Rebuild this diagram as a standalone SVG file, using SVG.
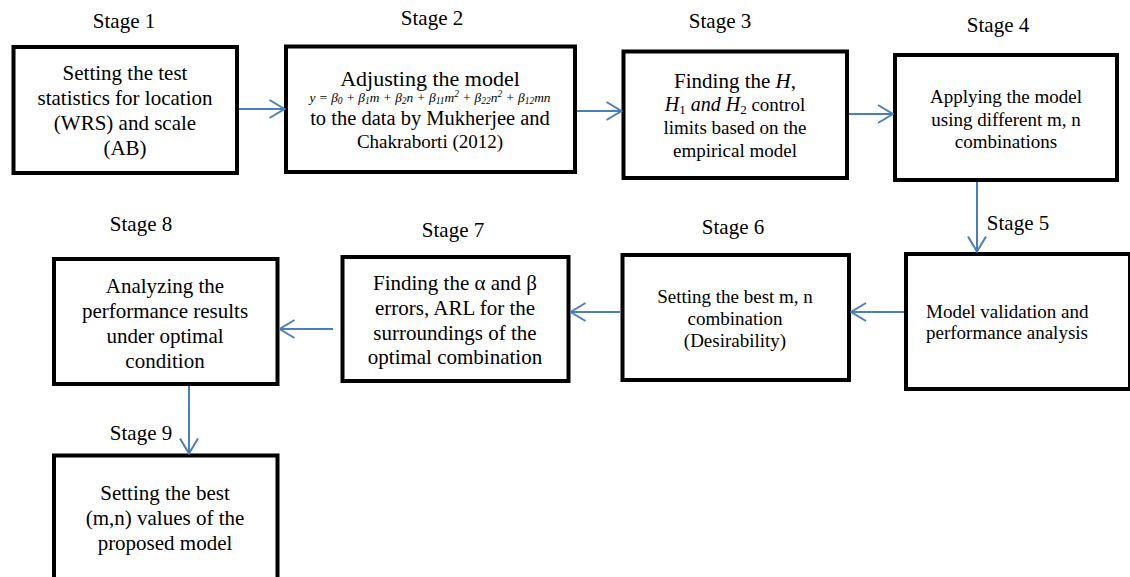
<svg xmlns="http://www.w3.org/2000/svg" width="1130" height="577" viewBox="0 0 1130 577">
<defs>
<style>
.box{fill:#fff;stroke:#000;stroke-width:4}
.t{font-family:'Liberation Serif','Times New Roman',serif;font-size:21px;fill:#000;text-anchor:middle}
.s{font-size:19px}
.b{font-size:22px}
.c{font-size:20.5px}
.f{font-size:13.4px;font-style:italic}
.sub{font-size:9.5px}
.l{text-anchor:start}
.m{font-style:italic}
.con{stroke:#4A7EBB;stroke-width:2;fill:none;marker-end:url(#ah)}
</style>
<marker id="ah" markerUnits="userSpaceOnUse" viewBox="0 0 17 20" refX="16" refY="10" markerWidth="17" markerHeight="20" orient="auto">
<path d="M1,1 L16,10 L1,19" fill="none" stroke="#4A7EBB" stroke-width="2"/>
</marker>
</defs>
<rect width="1130" height="577" fill="#fff"/>

<g id="labels">
<text class="t" x="124" y="28">Stage 1</text>
<text class="t" x="432" y="25">Stage 2</text>
<text class="t" x="720" y="28">Stage 3</text>
<text class="t" x="998" y="32">Stage 4</text>
<text class="t" x="1018" y="230">Stage 5</text>
<text class="t" x="733" y="234">Stage 6</text>
<text class="t" x="453" y="237">Stage 7</text>
<text class="t" x="141" y="231">Stage 8</text>
<text class="t" x="141" y="440">Stage 9</text>
</g>

<g id="stage1">
<rect class="box" x="13.5" y="47" width="223.5" height="126"/>
<text class="t" x="125" y="80">Setting the test</text>
<text class="t" x="125" y="105">statistics for location</text>
<text class="t" x="125" y="130">(WRS) and scale</text>
<text class="t" x="125" y="155">(AB)</text>
</g>

<g id="stage2">
<rect class="box" x="286" y="46.5" width="289" height="125.5"/>
<text class="t b" x="430" y="86">Adjusting the model</text>
<text class="t f" x="430" y="102">y = β<tspan class="sub" dy="2">0</tspan><tspan dy="-2"> + β</tspan><tspan class="sub" dy="2">1</tspan><tspan dy="-2">m + β</tspan><tspan class="sub" dy="2">2</tspan><tspan dy="-2">n + β</tspan><tspan class="sub" dy="2">11</tspan><tspan dy="-2">m</tspan><tspan class="sub" dy="-5">2</tspan><tspan dy="5"> + β</tspan><tspan class="sub" dy="2">22</tspan><tspan dy="-2">n</tspan><tspan class="sub" dy="-5">2</tspan><tspan dy="5"> + β</tspan><tspan class="sub" dy="2">12</tspan><tspan dy="-2">mn</tspan></text>
<text class="t c" x="430" y="125">to the data by Mukherjee and</text>
<text class="t s" x="430" y="148">Chakraborti (2012)</text>
</g>

<g id="stage3">
<rect class="box" x="623.5" y="51.5" width="223.5" height="126.5"/>
<text class="t" x="735" y="88">Finding the <tspan class="m">H</tspan>,</text>
<text class="t s" x="735" y="111"><tspan class="m" style="font-size:20px">H</tspan><tspan style="font-size:13px" dy="3">1</tspan><tspan class="m" style="font-size:20px" dy="-3"> and H</tspan><tspan style="font-size:13px" dy="3">2</tspan><tspan dy="-3"> control</tspan></text>
<text class="t s" x="735" y="134">limits based on the</text>
<text class="t s" x="735" y="157">empirical model</text>
</g>

<g id="stage4">
<rect class="box" x="895" y="55" width="222" height="125"/>
<text class="t s" x="1006" y="103">Applying the model</text>
<text class="t s" x="1006" y="126">using different m, n</text>
<text class="t s" x="1006" y="148">combinations</text>
</g>

<g id="stage5">
<rect class="box" x="906" y="254" width="224" height="135"/>
<text class="t s l" x="926" y="318">Model validation and</text>
<text class="t s l" x="926" y="339">performance analysis</text>
</g>

<g id="stage6">
<rect class="box" x="622.5" y="255" width="226.5" height="125"/>
<text class="t s" x="735" y="303">Setting the best m, n</text>
<text class="t s" x="735" y="325">combination</text>
<text class="t s" x="735" y="347">(Desirability)</text>
</g>

<g id="stage7">
<rect class="box" x="342.5" y="257" width="226" height="124"/>
<text class="t" x="455" y="290">Finding the α and β</text>
<text class="t" x="455" y="315">errors, ARL for the</text>
<text class="t" x="455" y="340">surroundings of the</text>
<text class="t" x="455" y="364">optimal combination</text>
</g>

<g id="stage8">
<rect class="box" x="54" y="259" width="223.5" height="125"/>
<text class="t" x="165" y="293">Analyzing the</text>
<text class="t" x="165" y="318">performance results</text>
<text class="t" x="165" y="343">under optimal</text>
<text class="t" x="165" y="368">condition</text>
</g>

<g id="stage9">
<rect class="box" x="54" y="455.5" width="223.5" height="130"/>
<text class="t" x="165" y="500">Setting the best</text>
<text class="t" x="165" y="525">(m,n) values of the</text>
<text class="t" x="165" y="550">proposed model</text>
</g>

<g id="connectors">
<path class="con" d="M239,109 L284.5,109"/>
<path class="con" d="M577,111 L621.5,111"/>
<path class="con" d="M849,114 L893,114"/>
<path class="con" d="M977,182 L977,251.5"/>
<path class="con" d="M904,312 L851,312"/>
<path class="con" d="M620.5,312 L570.5,312"/>
<path class="con" d="M333,329 L279.5,329"/>
<path class="con" d="M189,386 L189,453.5"/>
</g>
</svg>
